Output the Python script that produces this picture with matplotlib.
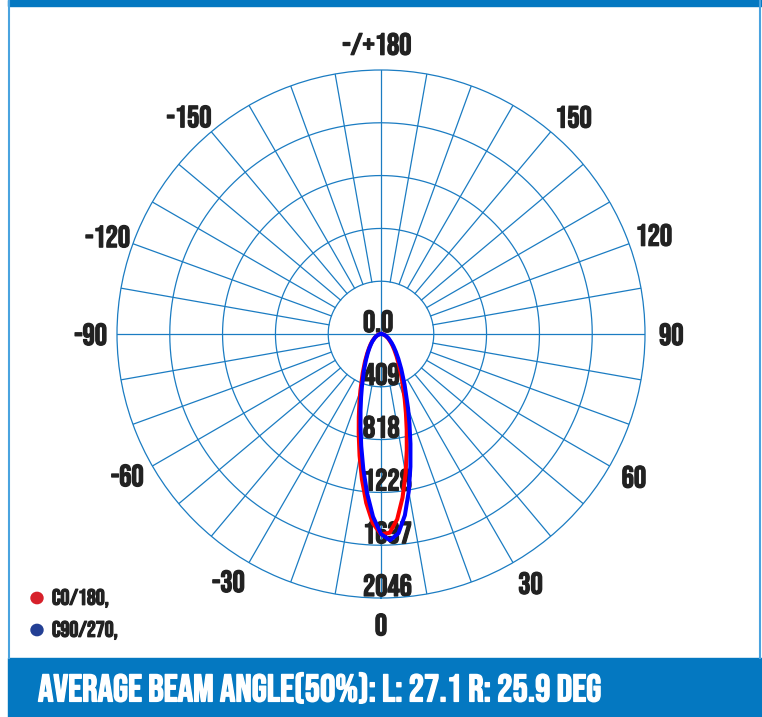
import numpy as np
import matplotlib
matplotlib.use('Agg')
import matplotlib.pyplot as plt
from matplotlib import transforms
from matplotlib import patheffects as pe
from matplotlib.patches import Rectangle, Circle

# photometric data: angle in degrees (0 = straight down), intensity in cd
angles = [-90, -80, -70, -60, -50, -45, -40, -35, -30, -25, -20, -17.5, -15, -12.5,
          -10, -7.5, -5, -2.5, 0, 2.5, 5, 7.5, 10, 12.5, 15, 17.5, 20, 25, 30,
          35, 40, 45, 50, 60, 70, 80, 90]
c0_180 = [0, 14, 32, 56, 90, 114, 145, 188, 249, 336, 467, 556, 665, 798,
          957, 1134, 1314, 1467, 1552, 1542, 1441, 1279, 1098, 923, 770, 642, 537, 382, 280,
          210, 161, 125, 98, 61, 36, 18, 2]
c90_270 = [0, 12, 31, 53, 86, 108, 138, 178, 234, 314, 432, 513, 613, 735,
           882, 1053, 1239, 1417, 1550, 1600, 1550, 1417, 1239, 1053, 882, 735, 613, 432, 314,
           234, 178, 138, 108, 68, 40, 21, 4]
series_names = ['C0/180,', 'C90/270,']

ring_values = [409, 818, 1228, 1637, 2046]
ring_labels = ['0.0', '409', '818', '1228', '1637', '2046']
angle_labels = ['0', '30', '60', '90', '120', '150', '-/+180',
                '-150', '-120', '-90', '-60', '-30']
angle_label_pos = [0, 31, 60.6, 90, 110, 138.5, 180.8,
                   -138.6, -109.7, -90, -60.9, -31.7]
footer = 'AVERAGE BEAM ANGLE(50%): L: 27.1 R: 25.9 DEG'

GRID = '#1b7cc2'
BAND = '#0478c1'
TXT = '#222222'
FONT = ['Bebas Neue', 'PT Sans Narrow', 'DejaVu Sans']
bold_dark = [pe.withStroke(linewidth=0.9, foreground=TXT)]
bold_white = [pe.withStroke(linewidth=1.0, foreground='white')]

fig = plt.figure(figsize=(7.62, 7.17), dpi=100)
W, H = 762, 717

# frame: top bar, side lines, bottom band
fig.patches.append(Rectangle((8 / W, 1 - 6 / H), 1, 6 / H, transform=fig.transFigure,
                             color=BAND, zorder=0))
fig.add_artist(plt.Line2D([8.5 / W, 8.5 / W], [59 / H, 1], color='#4aa3df', lw=1.5))
fig.add_artist(plt.Line2D([759.5 / W, 759.5 / W], [59 / H, 1], color='#4aa3df', lw=1.5))
fig.patches.append(Rectangle((8 / W, 0), 1, 59 / H, transform=fig.transFigure,
                             color=BAND, zorder=0))

ax = fig.add_axes([117 / W, 119 / H, 528 / W, 528 / H], projection='polar')
ax.set_theta_zero_location('S')
ax.set_theta_direction(1)
ax.set_rlim(0, 2046)
ax.set_xticks([])
ax.set_yticks([])
ax.grid(False)
ax.spines['polar'].set_color(GRID)
ax.spines['polar'].set_linewidth(0.9)

th = np.linspace(0, 2 * np.pi, 721)
for r in ring_values[:-1]:
    ax.plot(th, np.full_like(th, r), color=GRID, lw=0.9, zorder=1)
for a in range(0, 360, 10):
    r0 = 0 if a % 90 == 0 else ring_values[0]
    ax.plot([np.deg2rad(a)] * 2, [r0, 2046], color=GRID, lw=0.9, zorder=1)

# radial labels, left-aligned just above each ring on the 0 axis
off = transforms.offset_copy(ax.transData, fig=fig, x=-18, y=2, units='dots')
for r, lab in zip([0] + ring_values, ring_labels):
    ax.text(0, r, lab, transform=off, ha='left', va='bottom', fontsize=22,
            color=TXT, family=FONT, zorder=2, path_effects=bold_dark)

for lab, pos in zip(angle_labels, angle_label_pos):
    ax.text(np.deg2rad(pos), 2250, lab, ha='center', va='center', fontsize=22,
            color=TXT, family=FONT, clip_on=False, path_effects=bold_dark)

th_data = np.deg2rad(angles)
ax.plot(th_data, c0_180, color='#ff0000', lw=2.9, zorder=3)
ax.plot(th_data, c90_270, color='#0000ff', lw=2.9, zorder=4)

# legend
for i, (name, col) in enumerate(zip(series_names, ['#d7202a', '#233f94'])):
    y = (717 - 598 - 32 * i) / H
    fig.patches.append(Circle((37 / W, y), 6 / W, transform=fig.transFigure, color=col))
    fig.text(52 / W, y, name, ha='left', va='center', fontsize=16,
             color=TXT, family=FONT, path_effects=bold_dark)

t = fig.text(38 / W, 29 / H, footer, ha='left', va='center', fontsize=28,
             color='white', family=FONT, path_effects=bold_white)
fig.canvas.draw()
w = t.get_window_extent().width
t.set_fontsize(28 * 564 / w)

fig.savefig('out.png', dpi=100)
